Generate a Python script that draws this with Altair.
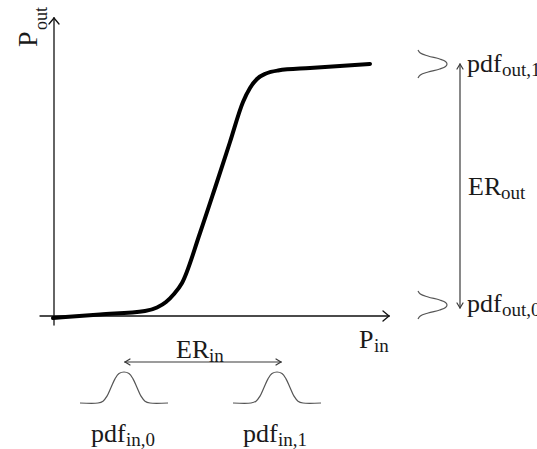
import altair as alt
import pandas as pd

W, H = 537, 449

# --- transfer curve (P_in -> P_out) (pixel space) ---
curve_x = [53, 100, 145, 157, 166, 174, 182, 200, 215, 230, 243, 250, 257, 266, 278, 310, 370]
curve_y = [318, 314.5, 311, 307.5, 302, 294, 283, 233, 188, 142, 102, 88, 79, 73.5, 70.5, 68, 64]

# --- straight segments: axes, arrows, arrow heads ---
seg_x1 = [40, 54, 383, 383, 49, 59, 460, 457, 463, 457, 463, 125, 130, 130, 276, 276]
seg_y1 = [316, 325, 311, 321, 24, 24, 65, 69, 69, 303, 303, 362, 359, 365, 359, 365]
seg_x2 = [389, 54, 389, 389, 54, 54, 460, 460, 460, 460, 460, 281, 125, 125, 281, 281]
seg_y2 = [316, 18, 316, 316, 18, 18, 307, 64, 64, 308, 308, 362, 362, 362, 362, 362]
seg_kind = ["axis"] * 6 + ["note"] * 10

# --- pdf bump profile (offset, relative height) ---
bump_off = [-44, -26, -21, -17, -13, -9, -5, 0, 5, 9, 13, 17, 21, 26, 44]
bump_h = [0, 0, 0.06, 0.22, 0.5, 0.78, 0.95, 1, 0.95, 0.78, 0.5, 0.22, 0.06, 0, 0]
in_centers = [124, 277]
in_base, in_height = 403, 31

side_off = [-14, -11, -8, -5, -2.5, 0, 2.5, 5, 8, 11, 14]
side_w = [0, 0.08, 0.35, 0.75, 0.95, 1, 0.95, 0.75, 0.35, 0.08, 0]
out_centers = [64, 305]
out_base, out_width = 418, 29

# --- labels ---
lab_text = ["P", "out", "pdf", "out,1", "ER", "out", "pdf", "out,0",
            "P", "in", "ER", "in", "pdf", "in,0", "pdf", "in,1"]
lab_x = [37, 47, 467, 502, 468, 501, 467, 502, 359, 374, 176, 209, 91, 126, 243, 278]
lab_y = [47, 30, 72, 76, 195, 199, 312, 316, 348, 352, 358, 362, 442, 446, 442, 446]
lab_size = [28, 18, 26, 19, 26, 19, 26, 19, 26, 19, 26, 19, 26, 19, 26, 19]
lab_angle = [270, 270, 0, 0, 0, 0, 0, 0, 0, 0, 0, 0, 0, 0, 0, 0]

# ---------------- build tables ----------------
curve_df = pd.DataFrame({"x": curve_x, "y": curve_y})
seg_df = pd.DataFrame({"x": seg_x1, "y": seg_y1, "x2": seg_x2, "y2": seg_y2, "kind": seg_kind})

rows = []
for b, c in enumerate(in_centers):
    for i, (o, h) in enumerate(zip(bump_off, bump_h)):
        rows.append({"g": f"in{b}", "i": i, "x": c + o, "y": in_base - in_height * h})
for b, c in enumerate(out_centers):
    for i, (o, w) in enumerate(zip(side_off, side_w)):
        rows.append({"g": f"out{b}", "i": i, "x": out_base + out_width * w, "y": c + o})
bump_df = pd.DataFrame(rows)

lab_df = pd.DataFrame({"t": lab_text, "x": lab_x, "y": lab_y, "s": lab_size, "a": lab_angle})

xs = alt.Scale(domain=[0, W], nice=False, zero=False)
ys = alt.Scale(domain=[0, H], nice=False, zero=False, reverse=True)
X = lambda f: alt.X(f, type="quantitative", scale=xs, axis=None)
Y = lambda f: alt.Y(f, type="quantitative", scale=ys, axis=None)

segs = alt.Chart(seg_df).mark_rule(strokeCap="round").encode(
    x=X("x"), y=Y("y"), x2="x2", y2="y2",
    color=alt.Color("kind:N", scale=alt.Scale(domain=["axis", "note"], range=["#111111", "#3a3a3a"]), legend=None),
    strokeWidth=alt.StrokeWidth("kind:N", scale=alt.Scale(domain=["axis", "note"], range=[1.3, 1.2]), legend=None),
)

curve = alt.Chart(curve_df).mark_line(
    color="#000000", strokeWidth=4, interpolate="monotone", strokeCap="round", strokeJoin="round"
).encode(x=X("x"), y=Y("y"))

bumps = alt.Chart(bump_df).mark_line(
    color="#555555", strokeWidth=1.2, interpolate="catmull-rom"
).encode(x=X("x"), y=Y("y"), detail="g:N", order="i:Q")

labels = alt.Chart(lab_df).mark_text(
    align="left", baseline="alphabetic", font="Liberation Serif", color="#1a1a1a"
).encode(
    x=X("x"), y=Y("y"), text="t:N",
    size=alt.Size("s:Q", scale=None, legend=None),
    angle=alt.Angle("a:Q", scale=None),
)

chart = alt.layer(segs, bumps, curve, labels).properties(
    width=W, height=H, padding=0, autosize=alt.AutoSizeParams(type="none")
).configure_view(stroke=None)

chart.save("out.html", embed_options={"renderer": "svg", "actions": False})
